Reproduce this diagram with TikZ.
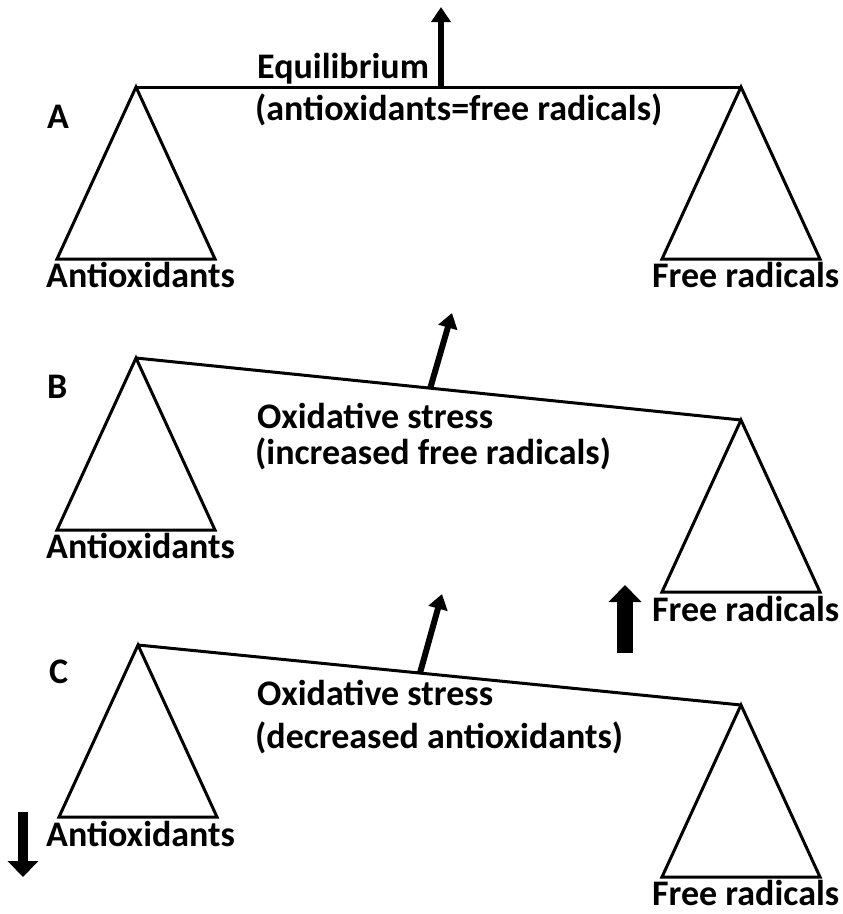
\documentclass[tikz,border=0pt]{standalone}
\usepackage{fontspec}
\setmainfont{Carlito}
\usetikzlibrary{arrows.meta}
\tikzset{
  beam/.style={line width=3pt},
  pan/.style={line width=3pt, line join=miter},
  txt/.style={anchor=base west, inner sep=0pt, font=\fontsize{36}{43}\selectfont\bfseries},
  tiltarrow/.style={-{Triangle[width=19pt,length=15pt]}, line width=6pt},
  bigarrow/.style={-{Triangle[width=32pt,length=17pt]}, line width=16pt},
  downarrow/.style={-{Triangle[width=30pt,length=16pt]}, line width=10pt}
}

\begin{document}
\begin{tikzpicture}[x=1pt, y=-1pt]
  \useasboundingbox (0,0) rectangle (843,914);

  % pivots of the three balances
  \coordinate (aL) at (136,87);
  \coordinate (aR) at (741,87);
  \coordinate (bL) at (136,358);
  \coordinate (bR) at (741,420);
  \coordinate (cL) at (138,645);
  \coordinate (cR) at (741,705);

  % A: equilibrium
  \draw[beam] (aL) -- (aR);
  \draw[pan] (aL) -- ++(-79,172) -- ++(158,0) -- cycle;
  \draw[pan] (aR) -- ++(-79,172) -- ++(158,0) -- cycle;
  \coordinate (aArrowFoot) at (441,87);
  \coordinate (aArrowTip) at (441,7);
  \draw[tiltarrow] (aArrowFoot) -- (aArrowTip);
  \node[txt] (labA) at (47,128) {A};
  \node[txt] (eqTitle) at (257,78) {Equilibrium};
  \node[txt] (eqSub) at (255,120) {(antioxidants=free radicals)};
  \node[txt] (aAnti) at (46,287) {Antioxidants};
  \node[txt] (aFree) at (652,287) {Free radicals};

  % B: more free radicals
  \draw[beam] (bL) -- (bR);
  \draw[pan] (bL) -- ++(-79,172) -- ++(158,0) -- cycle;
  \draw[pan] (bR) -- ++(-79,172) -- ++(158,0) -- cycle;
  \coordinate (bArrowFoot) at (430,389);
  \coordinate (bArrowTip) at (452,313);
  \draw[tiltarrow] (bArrowFoot) -- (bArrowTip);
  \node[txt] (labB) at (47,398) {B};
  \node[txt] (bTitle) at (257,428) {Oxidative stress};
  \node[txt] (bSub) at (255,464) {(increased free radicals)};
  \node[txt] (bAnti) at (46,558) {Antioxidants};
  \node[txt] (bFree) at (652,621) {Free radicals};
  \coordinate (bUpFoot) at (625,653);
  \coordinate (bUpTip) at (625,585);
  \draw[bigarrow] (bUpFoot) -- (bUpTip);

  % C: fewer antioxidants
  \draw[beam] (cL) -- (cR);
  \draw[pan] (cL) -- ++(-79,172) -- ++(158,0) -- cycle;
  \draw[pan] (cR) -- ++(-79,172) -- ++(158,0) -- cycle;
  \coordinate (cArrowFoot) at (420,673);
  \coordinate (cArrowTip) at (442,594);
  \draw[tiltarrow] (cArrowFoot) -- (cArrowTip);
  \node[txt] (labC) at (49,683) {C};
  \node[txt] (cTitle) at (257,705) {Oxidative stress};
  \node[txt] (cSub) at (255,748) {(decreased antioxidants)};
  \node[txt] (cAnti) at (46,846) {Antioxidants};
  \node[txt] (cFree) at (652,905) {Free radicals};
  \coordinate (cDownFoot) at (23,812);
  \coordinate (cDownTip) at (23,877);
  \draw[downarrow] (cDownFoot) -- (cDownTip);
\end{tikzpicture}
\end{document}
